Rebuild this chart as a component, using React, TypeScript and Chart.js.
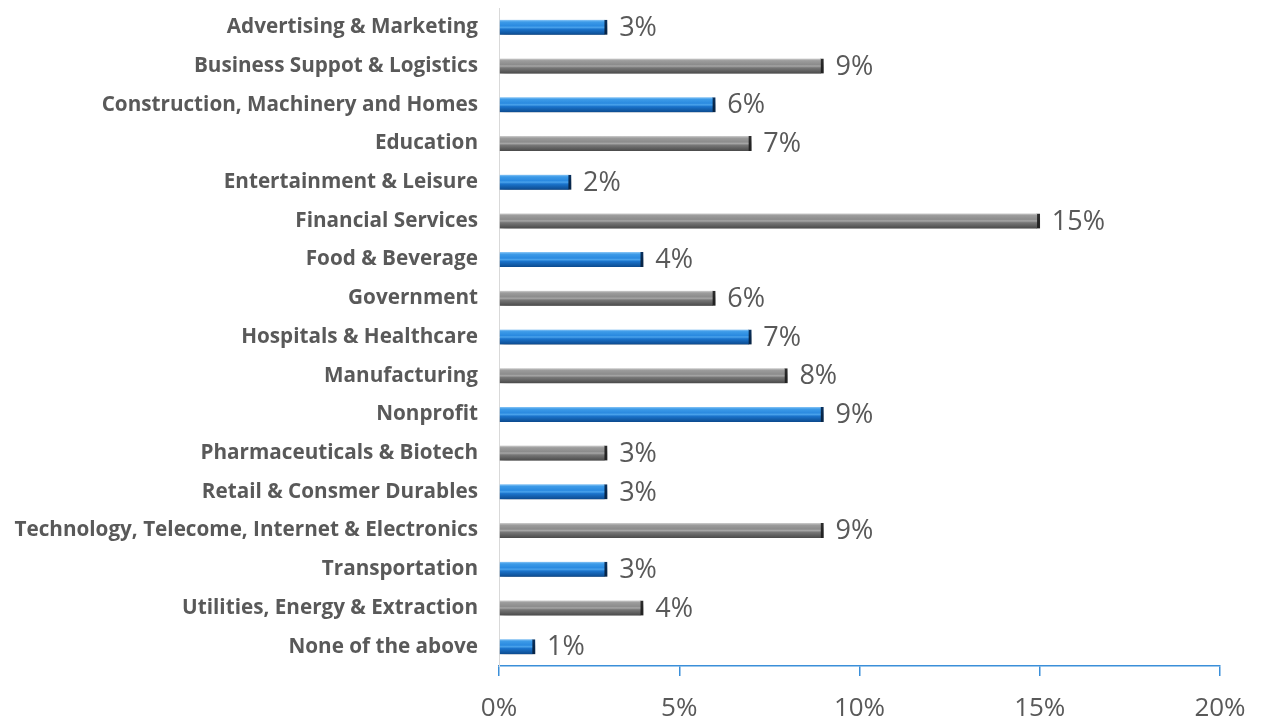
import React, { useEffect, useRef } from "react";
import { Chart, registerables } from "chart.js";

Chart.register(...registerables);

const categories = [
  "Advertising & Marketing",
  "Business Suppot & Logistics",
  "Construction, Machinery and Homes",
  "Education",
  "Entertainment & Leisure",
  "Financial Services",
  "Food & Beverage",
  "Government",
  "Hospitals & Healthcare",
  "Manufacturing",
  "Nonprofit",
  "Pharmaceuticals & Biotech",
  "Retail & Consmer Durables",
  "Technology, Telecome, Internet & Electronics",
  "Transportation",
  "Utilities, Energy & Extraction",
  "None of the above",
];

const values = [3, 9, 6, 7, 2, 15, 4, 6, 7, 8, 9, 3, 3, 9, 3, 4, 1];

const xTicks = [0, 5, 10, 15, 20];

const BAR_THICK = 15;

function makeGradient(ctx: CanvasRenderingContext2D, yc: number, blue: boolean) {
  const g = ctx.createLinearGradient(0, yc - BAR_THICK / 2, 0, yc + BAR_THICK / 2);
  if (blue) {
    g.addColorStop(0, "#8cc8f7");
    g.addColorStop(0.14, "#3d9be8");
    g.addColorStop(0.4, "#2a8ae0");
    g.addColorStop(0.5, "#4aa3ec");
    g.addColorStop(0.62, "#1b74cc");
    g.addColorStop(1, "#0c4a8e");
  } else {
    g.addColorStop(0, "#d0d0d0");
    g.addColorStop(0.14, "#9c9c9c");
    g.addColorStop(0.4, "#8c8c8c");
    g.addColorStop(0.5, "#a6a6a6");
    g.addColorStop(0.62, "#777777");
    g.addColorStop(1, "#4a4a4a");
  }
  return g;
}

const shadowPlugin = {
  id: "barShadow",
  beforeDatasetsDraw(chart: any) {
    const ctx = chart.ctx;
    ctx.save();
    ctx.shadowColor = "rgba(0,0,0,0.45)";
    ctx.shadowBlur = 6;
    ctx.shadowOffsetX = 2;
    ctx.shadowOffsetY = 5;
  },
  afterDatasetsDraw(chart: any) {
    chart.ctx.restore();
  },
};

const labelPlugin = {
  id: "valueLabels",
  afterDatasetsDraw(chart: any) {
    const ctx = chart.ctx;
    const meta = chart.getDatasetMeta(0);
    ctx.save();
    ctx.font = "27px 'Open Sans'";
    ctx.fillStyle = "#595959";
    ctx.textAlign = "left";
    ctx.textBaseline = "middle";
    meta.data.forEach((el: any, i: number) => {
      ctx.fillText(values[i] + "%", el.x + 12, el.y + 1);
    });
    ctx.restore();
  },
};

export default function App() {
  const ref = useRef<HTMLCanvasElement>(null);
  useEffect(() => {
    if (!ref.current) return;
    const chart = new Chart(ref.current, {
      type: "bar",
      data: {
        labels: categories,
        datasets: [
          {
            data: values,
            barThickness: BAR_THICK,
            backgroundColor: (c: any) => {
              const ch = c.chart;
              const blue = c.dataIndex % 2 === 0;
              if (!ch.chartArea || !ch.scales.y) return blue ? "#1b74cc" : "#808080";
              const yc = ch.scales.y.getPixelForValue(c.dataIndex);
              return makeGradient(ch.ctx, yc, blue);
            },
            borderColor: (c: any) => (c.dataIndex % 2 === 0 ? "#0a3260" : "#2e2e2e"),
            borderWidth: { top: 0, bottom: 0, left: 0, right: 3 },
            borderSkipped: false,
          },
        ],
      },
      options: {
        indexAxis: "y",
        animation: false,
        responsive: true,
        maintainAspectRatio: false,
        layout: { padding: { top: 8, right: 41, left: 0, bottom: 0 } },
        plugins: {
          legend: { display: false },
          tooltip: { enabled: false },
        },
        scales: {
          x: {
            min: 0,
            max: 20,
            afterBuildTicks: (s: any) => {
              s.ticks = xTicks.map((v) => ({ value: v }));
            },
            afterFit: (s: any) => {
              s.height = 58;
              s.paddingLeft = 0;
              s.paddingRight = 0;
            },
            ticks: {
              callback: (v: any) => v + "%",
              font: { family: "'Open Sans'", size: 26 },
              color: "#595959",
              padding: 17,
              maxRotation: 0,
            },
            grid: {
              display: true,
              drawOnChartArea: false,
              drawTicks: true,
              tickLength: 10,
              color: "#3b8fd9",
              lineWidth: 1.5,
            },
            border: { display: true, color: "#3b8fd9", width: 1.5 },
          },
          y: {
            afterFit: (s: any) => {
              s.width = 499;
              s.paddingTop = 0;
              s.paddingBottom = 0;
            },
            ticks: {
              font: { family: "'Open Sans'", size: 20.7, weight: "bold" },
              color: "#595959",
              padding: 13,
            },
            grid: { display: false },
            border: { display: true, color: "#d9d9d9", width: 1 },
          },
        },
      },
      plugins: [shadowPlugin, labelPlugin],
    });
    return () => chart.destroy();
  }, []);
  return (
    <div style={{ position: "fixed", left: 0, top: 0, width: 1261, height: 724, background: "#fff" }}>
      <canvas ref={ref} />
    </div>
  );
}
